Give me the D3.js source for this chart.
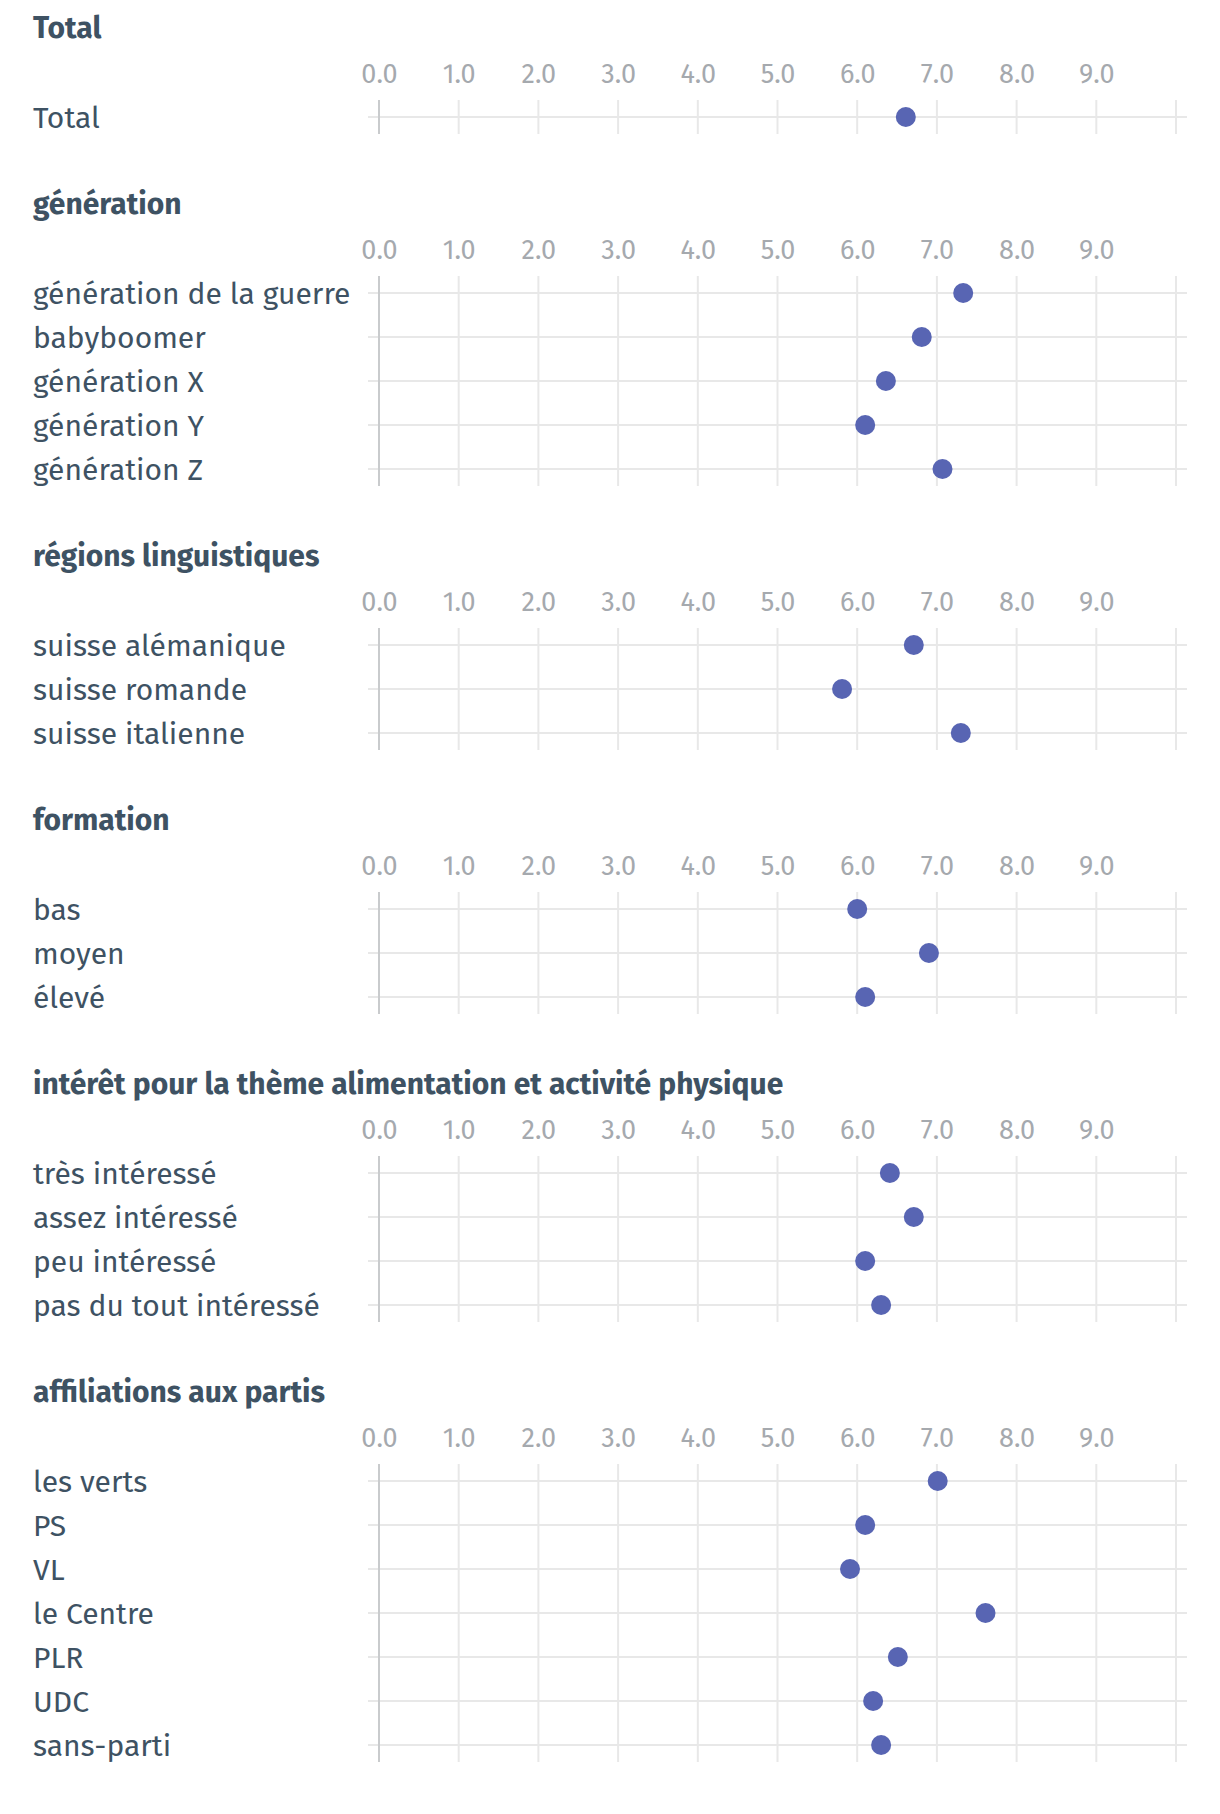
<!DOCTYPE html>
<html>
<head>
<meta charset="utf-8">
<script src="https://cdn.jsdelivr.net/npm/d3@7"></script>
<style>
  html, body { margin: 0; padding: 0; background: #ffffff; }
  svg { display: block; }
</style>
</head>
<body>
<svg id="chart" width="1220" height="1814"></svg>
<script>
// ---- data ----
const sectionTitles = [
  "Total",
  "génération",
  "régions linguistiques",
  "formation",
  "intérêt pour la thème alimentation et activité physique",
  "affiliations aux partis"
];
const totalCategories = ["Total"];
const totalValues = [6.61];
const generationCategories = ["génération de la guerre", "babyboomer", "génération X", "génération Y", "génération Z"];
const generationValues = [7.33, 6.81, 6.36, 6.10, 7.07];
const regionCategories = ["suisse alémanique", "suisse romande", "suisse italienne"];
const regionValues = [6.71, 5.81, 7.30];
const formationCategories = ["bas", "moyen", "élevé"];
const formationValues = [6.00, 6.90, 6.10];
const interestCategories = ["très intéressé", "assez intéressé", "peu intéressé", "pas du tout intéressé"];
const interestValues = [6.41, 6.71, 6.10, 6.30];
const partyCategories = ["les verts", "PS", "VL", "le Centre", "PLR", "UDC", "sans-parti"];
const partyValues = [7.01, 6.10, 5.91, 7.61, 6.51, 6.20, 6.30];
const tickValues = [0, 1, 2, 3, 4, 5, 6, 7, 8, 9];
const gridValues = [0, 1, 2, 3, 4, 5, 6, 7, 8, 9, 10];

const sectionCategories = [totalCategories, generationCategories, regionCategories, formationCategories, interestCategories, partyCategories];
const sectionValues = [totalValues, generationValues, regionValues, formationValues, interestValues, partyValues];

// ---- style ----
const FONT = "'Fira Sans', Inter, sans-serif";
const textColor = "#3e5263";
const tickColor = "#a5a9ae";
const gridColor = "#e8e8e8";
const zeroColor = "#c9cbcd";
const dotColor = "#5865b3";

const svg = d3.select("#chart");
const x = d3.scaleLinear().domain([0, 10]).range([379, 1176]);
const rowStep = 44;
const sectionGap = 176;
const labelX = 33;

let firstRow = 117;
sectionTitles.forEach((title, i) => {
  const cats = sectionCategories[i];
  const vals = sectionValues[i];
  const lastRow = firstRow + rowStep * (cats.length - 1);
  const y = d3.scalePoint().domain(cats).range([firstRow, lastRow]);
  const g = svg.append("g");

  g.append("text")
    .attr("x", labelX).attr("y", firstRow - 79)
    .attr("font-family", FONT).attr("font-weight", 700)
    .attr("font-size", 30).attr("fill", textColor)
    .text(title);

  // tick labels
  const axis = d3.axisTop(x).tickValues(tickValues).tickFormat(d3.format(".1f")).tickSize(0).tickPadding(0);
  const ag = g.append("g").attr("transform", `translate(0,${firstRow - 34})`).call(axis);
  ag.select(".domain").remove();
  ag.selectAll("text")
    .attr("font-family", FONT).attr("font-size", 27).attr("fill", tickColor)
    .attr("dy", 0);

  // horizontal row lines
  g.selectAll("line.row").data(cats).join("line")
    .attr("x1", x(0) - 11).attr("x2", x(10) + 11)
    .attr("y1", d => y(d)).attr("y2", d => y(d))
    .attr("stroke", gridColor).attr("stroke-width", 2);

  // vertical grid
  g.selectAll("line.grid").data(gridValues).join("line")
    .attr("x1", d => x(d)).attr("x2", d => x(d))
    .attr("y1", firstRow - 17).attr("y2", lastRow + 17)
    .attr("stroke", d => d === 0 ? zeroColor : gridColor).attr("stroke-width", 2);

  // row labels
  g.selectAll("text.lab").data(cats).join("text")
    .attr("x", labelX).attr("y", d => y(d))
    .attr("dy", "0.35em")
    .attr("font-family", FONT).attr("font-size", 30).attr("fill", textColor)
    .text(d => d);

  // dots
  g.selectAll("circle").data(cats.map((c, j) => ({c, v: vals[j]}))).join("circle")
    .attr("cx", d => x(d.v)).attr("cy", d => y(d.c)).attr("r", 10)
    .attr("fill", dotColor);

  firstRow = lastRow + sectionGap;
});
</script>
</body>
</html>
